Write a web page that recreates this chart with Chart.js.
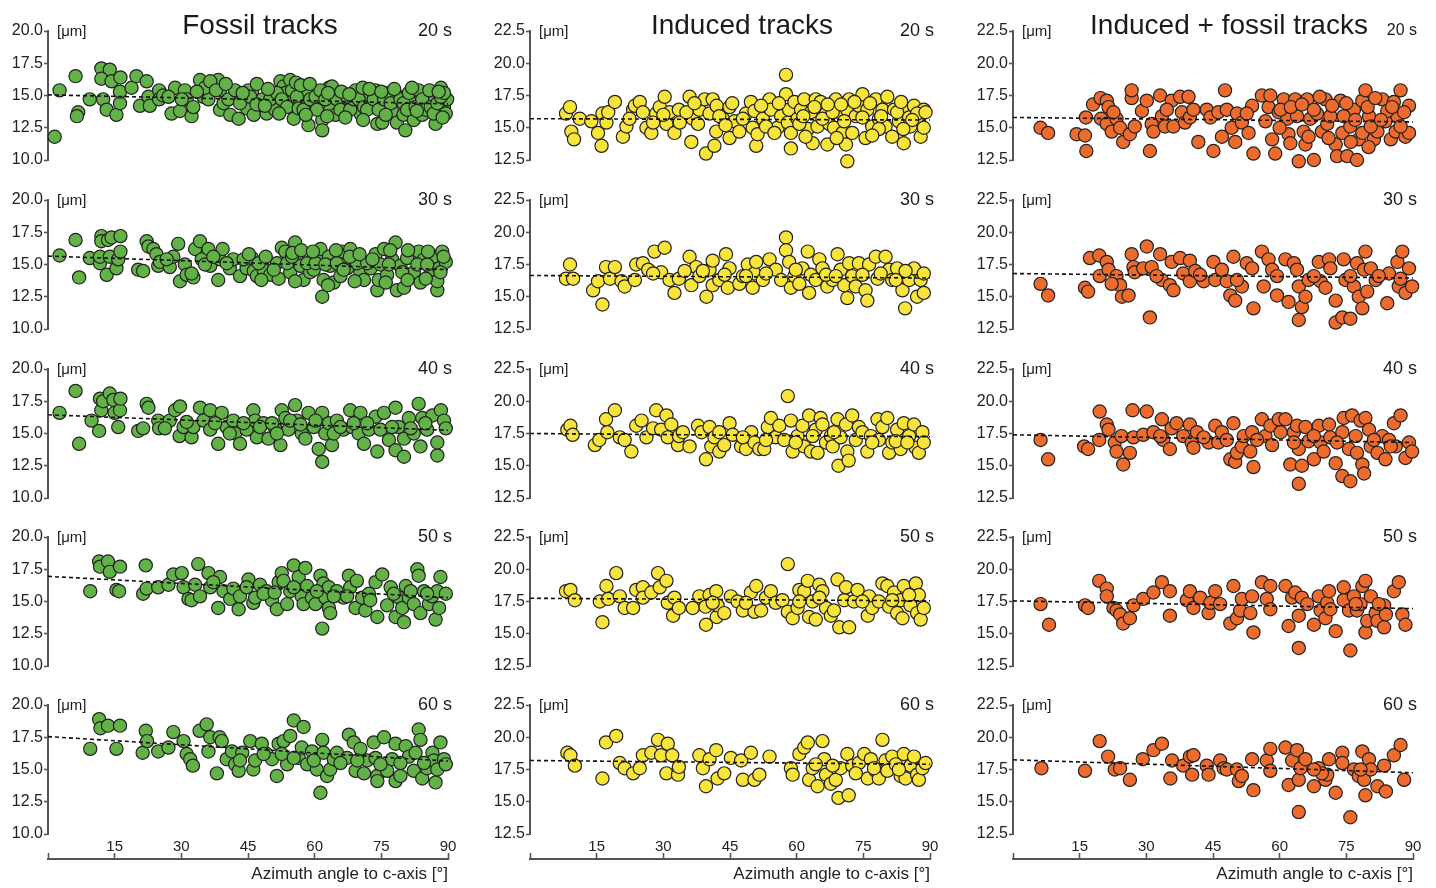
<!DOCTYPE html>
<html><head><meta charset="utf-8">
<script src="https://cdn.jsdelivr.net/npm/chart.js@4.4.0/dist/chart.umd.min.js"></script>
<style>
html,body{margin:0;padding:0;background:#fff;width:1436px;height:888px;overflow:hidden;position:relative;font-family:"Liberation Sans",Arial,sans-serif;}
canvas{position:absolute;}
.t{position:absolute;white-space:nowrap;color:#1a1a1a;line-height:1;}
</style></head><body>
<script>
// ---------- data ----------
const columnTitles = ['Fossil tracks', 'Induced tracks', 'Induced + fossil tracks'];
const timeLabels = ['20 s', '30 s', '40 s', '50 s', '60 s'];
const xTickValues = [15, 30, 45, 60, 75, 90];
const xRange = [0, 90];
const fossilYRange = [10, 20];
const inducedYRange = [12.5, 22.5];
const combinedYRange = [12.5, 22.5];
const yStep = 2.5;
const xTitle = 'Azimuth angle to c-axis [°]';
const yUnit = '[μm]';

// trend lines: value at 0° and at 90°
const fossilTrend = [[15.05, 14.35], [15.65, 14.6], [16.45, 15.25], [16.95, 15.3], [17.55, 15.65]];
const inducedTrend = [[15.7, 15.6], [16.65, 16.45], [17.5, 17.25], [17.75, 17.55], [18.2, 17.9]];
const combinedTrend = [[15.8, 15.45], [16.8, 16.45], [17.4, 16.8], [17.55, 16.95], [18.25, 17.25]];

// points as flat [angle, length, angle, length, ...]
const fossil20 = [1.5,11.8,2.6,15.4,6.2,16.5,6.8,13.7,6.5,13.4,9.4,14.7,12.0,17.1,13.9,17.0,12.0,16.3,12.4,14.7,13.2,13.9,14.3,16.1,15.4,13.5,16.2,14.4,16.3,16.4,16.2,15.3,18.8,15.6,19.9,16.5,20.7,14.2,22.2,16.1,22.6,14.9,22.9,14.2,25.0,15.4,25.0,14.7,27.8,13.6,28.6,15.6,29.7,13.8,30.8,15.4,31.2,14.7,32.3,13.4,32.7,14.1,34.2,16.2,35.0,14.9,36.1,14.7,37.2,15.8,38.3,16.2,38.7,15.4,38.7,13.9,41.0,13.5,41.7,14.9,42.9,13.2,44.4,14.7,44.8,14.0,45.9,15.3,46.3,13.5,48.2,14.7,49.2,13.6,51.1,13.9,52.3,16.1,53.0,15.7,53.4,15.2,54.5,16.2,54.5,14.5,55.3,13.2,57.1,14.7,58.3,15.3,58.6,12.7,59.8,14.1,60.9,14.7,61.7,13.1,61.7,12.3,63.2,15.6,63.5,13.9,64.3,14.9,64.7,13.5,66.5,14.1,68.4,14.4,69.5,15.3,70.3,13.6,71.4,14.7,72.6,14.1,73.7,15.4,74.1,12.8,75.2,12.9,76.3,14.7,77.4,13.8,78.2,15.1,78.5,12.9,80.0,13.5,80.4,12.3,81.6,14.7,82.3,13.1,83.4,15.2,84.2,13.5,85.3,14.1,86.5,14.8,87.2,12.8,88.4,15.6,89.1,14.1,89.8,14.7,25.9,15.0,27.1,14.9,30.1,14.7,35.3,15.6,36.5,16.1,37.8,15.4,39.5,14.4,40.6,14.7,42.1,15.4,43.2,14.4,45.1,15.4,45.5,14.9,50.0,14.7,51.5,15.2,52.6,14.7,53.8,14.1,54.9,15.4,56.0,14.9,56.4,14.0,57.5,13.9,59.0,14.7,60.2,14.9,60.5,13.9,61.3,15.4,62.4,14.7,62.8,13.4,63.9,15.7,65.0,14.7,65.8,13.9,67.3,14.9,68.0,13.9,68.8,14.7,69.2,15.4,69.9,14.7,71.1,14.1,71.8,13.9,73.3,14.7,74.4,13.9,75.6,14.7,76.7,15.2,77.1,14.4,79.3,14.7,80.0,14.4,80.8,13.9,81.2,15.2,82.7,14.1,83.4,15.4,84.2,14.7,85.0,13.9,86.1,14.1,86.8,13.6,87.6,14.4,88.4,14.9,89.5,13.6,89.1,15.2,47.0,15.9,49.5,15.5,55.8,16.0,56.9,15.8,58.9,15.9,63.0,15.2,66.0,15.3,67.8,15.1,70.8,15.6,72.3,15.5,75.0,15.3,77.9,15.5,81.9,15.6,85.8,15.4,87.9,15.3,33.5,15.3,40.0,15.9,43.8,15.2,46.9,14.3,48.8,14.2,52.0,13.6,58.0,13.5,66.9,13.3,70.9,13.1,76.0,13.5,83.0,13.8,88.8,13.3];
const fossil30 = [2.6,15.7,6.2,16.9,7.0,14.0,9.4,15.5,11.7,15.1,11.7,15.6,12.0,17.2,12.0,16.8,13.5,16.9,14.3,17.1,13.2,14.2,13.9,15.6,15.4,14.7,15.8,15.4,16.3,17.2,16.3,16.0,20.3,14.6,21.4,14.5,22.2,16.8,22.6,16.4,23.7,16.2,24.4,15.8,24.8,14.9,25.2,15.2,27.4,14.8,28.2,15.6,29.3,16.6,29.7,13.7,30.8,15.0,31.2,14.2,32.7,14.0,32.3,14.3,33.1,16.2,34.2,16.8,34.6,15.4,36.1,16.2,36.5,14.9,38.3,13.8,38.7,15.4,39.3,16.2,40.9,14.7,41.7,15.4,43.2,14.1,44.7,14.7,45.9,15.5,46.3,14.5,47.0,14.1,48.5,14.6,50.0,14.2,51.5,15.1,51.9,13.9,52.6,16.3,53.4,16.0,54.5,14.4,55.6,16.7,56.0,15.4,56.8,14.9,57.5,13.8,59.0,14.4,59.8,14.6,60.5,15.5,61.3,16.2,61.7,12.5,62.0,13.8,63.2,15.6,63.5,14.9,64.3,13.6,65.8,14.1,66.2,16.0,67.3,14.7,68.0,16.2,68.8,15.4,70.3,14.4,71.1,13.8,72.6,14.7,73.7,15.8,74.1,13.0,74.4,13.8,75.6,16.2,76.3,14.2,77.4,15.4,78.2,16.7,78.5,13.0,79.3,14.9,80.1,13.2,80.8,15.5,81.6,14.1,82.3,14.4,83.4,16.0,83.8,13.6,84.6,15.4,86.1,14.6,86.8,15.6,87.6,13.0,87.6,13.7,88.0,14.7,88.7,16.0,89.5,15.2,26.7,15.4,35.3,15.0,37.2,15.6,40.2,15.1,44.0,15.4,47.4,15.1,50.8,14.6,53.8,15.1,54.9,15.6,58.3,15.1,60.2,15.1,62.4,15.0,65.0,15.1,66.5,14.6,69.5,15.1,71.8,15.1,74.8,15.0,76.7,15.0,79.7,14.4,83.1,15.0,85.3,15.0,88.3,14.4,45.2,15.8,49.0,15.6,55.0,15.9,57.0,16.1,59.6,16.0,64.8,16.1,67.9,15.6,70.1,15.8,73.0,15.4,77.0,16.1,81.0,16.1,85.5,16.0,89.0,15.6,48.0,13.8,55.6,13.7,63.0,13.4,69.0,13.7,76.0,13.6,80.9,13.8,85.0,13.9];
const fossil40 = [2.6,16.6,6.2,18.3,7.0,14.2,9.8,16.0,11.5,15.2,11.7,17.7,12.0,16.8,12.4,17.5,13.9,18.1,14.7,17.6,15.0,16.6,15.8,15.5,16.2,16.8,16.3,17.7,20.3,15.2,22.2,17.3,22.6,17.0,21.4,15.4,24.8,16.0,25.0,15.4,27.4,16.0,28.6,16.8,29.7,17.1,29.6,14.8,30.5,15.5,32.3,14.7,32.7,15.5,34.2,17.0,35.0,16.0,36.5,16.8,36.5,15.3,38.3,14.2,39.1,16.6,40.2,15.5,41.7,16.0,42.1,15.0,43.2,14.2,44.7,15.3,46.2,16.8,46.6,16.0,47.0,14.7,48.5,15.8,49.6,14.6,51.1,15.4,52.3,14.1,52.6,16.8,53.4,16.2,54.1,15.3,55.6,17.2,56.0,16.0,57.1,15.0,57.9,14.6,58.6,16.6,59.8,15.5,60.9,13.8,61.7,12.8,61.7,16.6,62.4,15.0,63.2,15.8,63.9,14.1,65.0,16.0,66.5,15.3,68.0,16.8,68.4,15.5,69.9,15.0,70.3,16.6,71.1,14.2,72.2,15.3,73.7,16.3,74.1,13.6,75.6,16.6,76.7,14.5,78.2,17.0,78.2,13.7,78.9,15.5,80.1,13.2,80.1,14.6,81.2,16.2,82.3,15.0,83.4,17.3,83.8,14.0,84.2,16.2,85.3,15.3,86.5,16.4,87.6,13.3,87.6,14.3,88.4,16.8,89.1,16.0,89.5,15.4,26.3,15.4,31.2,15.9,37.6,15.8,40.9,15.0,44.0,15.8,47.7,15.5,50.4,15.8,51.5,15.0,54.5,16.0,56.8,15.7,60.2,16.0,64.3,15.0,65.8,15.5,68.8,15.8,71.8,15.8,74.8,15.3,77.4,15.5,81.6,15.4,84.9,15.8];
const fossil50 = [9.5,15.8,11.5,18.1,11.7,17.7,13.5,18.1,13.9,17.3,15.4,15.9,16.0,15.8,16.2,17.7,21.4,15.6,22.0,17.8,22.2,16.0,24.8,16.1,27.1,16.3,28.2,17.1,30.1,17.2,30.5,16.1,31.6,15.2,32.3,15.1,33.1,16.3,33.8,17.9,34.2,15.4,36.1,17.2,36.5,16.1,38.3,14.5,38.7,16.9,39.5,15.8,41.0,15.2,41.7,16.0,42.9,14.4,43.2,15.4,45.1,16.7,46.2,14.9,46.6,15.3,47.7,16.3,49.2,15.8,50.4,15.1,51.5,14.4,51.9,16.5,52.6,17.2,53.0,16.6,53.8,14.8,54.5,15.8,55.3,17.8,56.4,16.9,57.1,15.4,57.5,14.8,57.9,17.6,58.3,16.2,59.4,15.3,60.2,14.8,61.3,17.0,61.7,12.9,62.0,16.4,62.4,15.3,63.2,14.5,63.5,14.1,63.2,16.1,65.0,15.8,66.5,15.3,67.7,17.0,68.0,16.1,69.2,14.5,69.5,16.6,70.7,15.3,71.4,14.3,72.2,15.6,73.7,16.5,74.1,13.8,75.2,17.1,76.3,14.7,77.1,16.1,78.2,13.8,79.0,15.3,79.7,14.5,80.1,13.4,80.5,16.2,81.2,15.3,82.3,14.8,83.1,17.5,83.4,17.0,83.8,14.1,84.6,15.8,85.7,14.8,86.4,15.4,87.2,13.6,87.6,15.8,88.0,14.5,88.3,16.9,89.5,15.6,37.2,16.5,44.7,16.1,48.5,15.6,51.0,15.7,55.3,16.1,60.5,15.8,64.3,15.4,67.3,15.4,72.5,15.1,77.8,15.6,81.6,15.8,85.3,15.6];
const fossil60 = [9.5,16.6,11.5,18.9,11.8,18.2,13.5,18.4,15.4,16.6,16.2,18.4,21.3,16.3,22.0,18.0,22.3,17.2,24.8,16.4,27.1,16.7,28.2,17.9,30.5,17.2,31.2,16.2,32.0,15.8,32.6,15.3,34.1,18.0,35.7,18.5,36.1,16.4,36.5,17.5,38.0,14.7,38.6,17.5,39.1,17.2,40.2,15.8,41.4,16.4,42.1,15.4,42.9,14.9,43.7,16.3,45.5,17.2,46.2,15.0,46.6,15.7,48.1,17.0,49.2,16.2,50.4,15.8,51.5,14.5,51.9,17.0,53.0,17.2,53.8,15.4,54.5,17.6,55.3,18.8,56.4,15.9,57.1,16.7,57.5,18.3,58.3,15.4,59.4,16.4,60.5,15.0,61.3,13.2,61.7,17.3,62.0,16.3,62.8,14.5,63.5,15.0,64.3,15.8,65.0,16.3,67.3,15.9,67.7,17.7,68.8,17.1,69.2,14.9,70.3,16.6,71.1,14.7,71.8,15.7,73.3,17.1,73.7,15.9,74.1,14.5,74.1,14.1,75.6,17.5,76.3,14.9,77.4,15.8,78.2,14.1,78.2,17.0,79.3,14.5,80.5,16.8,81.2,16.0,82.3,14.9,82.7,16.3,83.4,18.1,83.8,17.3,84.2,14.3,85.3,15.1,86.5,16.3,86.8,15.7,87.2,14.0,87.6,15.0,88.3,17.1,89.1,15.8,89.5,15.4,43.2,15.7,48.5,16.2,52.6,16.2,55.3,15.9,59.8,15.7,65.8,15.5,69.6,15.7,74.8,15.4,79.3,15.5,84.6,15.5];

const induced20 = [8.1,16.1,9.0,16.6,9.3,14.7,9.9,14.1,11.2,15.7,13.8,15.5,15.3,14.6,16.1,13.6,16.3,16.1,17.2,15.4,17.6,16.2,19.1,17.0,20.9,14.3,21.7,15.1,23.2,16.4,23.6,16.7,24.7,17.0,25.4,16.2,26.2,15.0,27.3,14.6,28.4,16.1,29.2,16.6,30.3,17.4,30.7,15.3,31.4,16.2,32.5,14.6,33.5,16.4,33.7,15.4,35.9,17.4,36.3,13.9,36.6,15.7,38.1,16.4,39.3,17.2,39.6,13.0,40.4,16.1,41.1,17.2,41.5,13.6,41.9,14.7,42.0,16.7,43.4,15.7,44.9,14.2,44.9,16.6,46.0,15.5,47.1,14.7,48.6,16.1,49.7,17.0,50.1,15.0,50.5,16.3,50.9,13.6,51.2,14.5,52.4,15.7,53.9,17.2,54.2,16.4,55.7,15.0,56.5,15.9,57.6,19.1,57.6,17.6,58.0,15.4,58.3,16.4,58.7,13.4,58.7,14.6,59.5,17.0,60.2,15.7,61.0,16.4,61.7,17.2,62.5,14.9,63.2,16.2,63.6,13.8,64.3,17.2,64.7,15.1,65.4,17.0,66.6,16.1,66.9,13.7,67.3,15.3,68.4,15.0,68.8,17.2,69.6,16.2,70.3,14.6,71.1,13.7,71.4,16.4,71.8,17.2,71.4,12.4,72.5,14.6,73.3,15.9,74.0,16.7,74.8,17.6,75.5,14.2,75.9,16.4,77.0,15.1,77.8,17.2,78.5,15.7,79.3,16.4,80.0,15.1,80.4,17.4,81.5,14.3,81.9,16.4,83.0,15.5,84.1,13.8,84.5,16.4,85.6,15.1,86.4,16.7,87.5,15.7,87.9,14.3,88.6,16.4,88.6,15.0,22.4,15.7,27.7,15.4,35.2,16.2,37.8,15.3,42.6,15.9,47.9,15.7,53.1,15.1,60.6,15.3,65.8,15.7,68.1,16.2,70.7,15.5,74.8,15.8,78.5,14.9,82.6,16.2,85.3,15.8,87.1,16.1,45.5,16.9,52.0,16.7,56.0,16.9,61.5,15.9,64.0,16.6,67.0,16.8,70.0,16.8,73.0,17.0,76.5,16.9,79.0,15.9,83.5,17.0,86.0,15.6,89.0,16.2,30.0,16.0,37.0,16.9,44.0,15.2,55.0,14.6,62.0,14.3,69.0,14.2,77.0,14.4,84.0,14.9];
const induced30 = [8.1,16.4,9.0,17.5,9.7,16.4,14.2,15.5,15.3,16.2,16.3,14.4,17.1,17.3,18.0,16.4,19.1,17.3,20.6,16.2,21.3,15.8,23.6,16.3,23.9,17.5,25.4,17.6,26.6,17.1,28.0,18.5,29.5,16.9,30.3,18.8,31.4,16.3,32.5,15.3,33.5,16.4,35.9,18.1,36.3,15.9,37.4,17.3,38.1,16.6,39.7,15.0,40.4,17.1,41.1,17.8,41.1,15.9,42.6,16.3,44.1,18.3,44.5,15.7,44.9,17.2,47.1,16.0,47.9,16.6,49.0,17.5,50.1,15.7,50.5,16.8,50.9,17.7,52.4,16.3,53.9,17.9,55.3,17.1,56.5,16.3,57.6,19.6,57.6,18.6,58.3,17.7,58.7,15.7,59.5,16.6,60.6,16.0,61.3,17.2,62.5,18.5,62.8,15.3,63.2,16.7,64.3,16.3,65.1,17.9,65.8,17.2,66.9,15.8,68.1,16.3,69.2,18.3,69.9,17.1,70.7,15.9,71.4,14.9,71.8,17.6,72.5,16.6,73.3,15.8,74.0,17.6,75.5,15.5,75.9,14.7,76.3,17.5,77.8,18.1,78.2,16.4,80.0,18.1,80.8,17.1,81.5,16.3,82.6,17.2,83.8,15.5,84.4,14.1,85.3,16.3,86.4,17.2,87.1,15.0,87.9,16.3,88.6,16.8,88.6,15.3,27.7,16.8,34.8,17.0,38.9,17.0,43.8,16.7,48.6,16.6,53.1,16.8,59.8,17.1,66.6,16.7,68.8,16.6,74.8,16.7,78.9,16.8,82.3,16.3,84.5,17.0];
const induced40 = [8.4,17.8,9.1,18.1,9.6,17.4,14.6,16.6,15.6,17.0,17.1,18.6,17.4,17.6,19.1,19.3,20.2,17.2,21.3,17.0,22.8,16.1,23.9,18.1,25.1,18.5,26.2,17.2,27.7,17.9,28.4,19.3,29.5,17.8,30.7,18.9,31.0,17.2,31.8,18.2,33.3,16.6,33.5,17.3,35.9,16.5,37.8,18.1,38.6,17.6,39.6,15.5,40.4,18.0,40.8,16.5,41.5,17.2,42.6,16.1,43.7,16.6,44.9,18.3,45.6,17.4,47.5,16.5,48.6,16.3,49.8,17.6,50.5,16.8,51.6,16.3,52.7,16.3,53.5,18.0,54.2,18.7,55.3,17.2,56.1,18.1,57.2,17.0,58.0,20.4,58.7,18.5,59.1,16.1,60.2,17.3,61.3,18.1,61.7,16.5,62.8,18.9,63.2,16.1,64.3,17.8,64.7,16.0,65.4,18.7,65.8,18.2,66.6,16.8,67.7,17.3,68.1,16.5,69.2,18.6,69.4,15.0,69.9,17.2,71.1,18.2,71.4,16.1,71.7,15.4,72.5,18.9,73.3,17.0,74.0,18.0,74.8,17.6,75.9,16.1,76.7,17.3,78.2,18.6,78.5,17.0,79.3,18.0,80.4,18.7,80.8,16.0,81.5,16.8,82.6,17.8,83.4,16.3,84.1,18.3,85.3,17.3,86.4,18.2,86.8,16.4,87.5,16.0,88.3,17.6,88.6,16.8,34.4,17.6,42.6,17.6,47.9,17.2,53.1,17.0,59.8,16.8,63.6,17.3,68.4,17.6,77.0,16.8,82.3,16.9,84.9,16.8];
const induced50 = [8.1,18.3,9.1,18.4,10.1,17.6,15.7,17.5,16.3,15.9,17.2,18.7,17.6,17.7,19.4,19.7,20.2,17.9,21.3,17.0,23.2,17.0,23.9,18.4,25.4,18.6,25.4,17.8,27.3,18.2,28.8,19.7,29.2,18.6,30.7,19.1,31.0,17.4,32.2,16.4,32.5,17.8,33.5,17.0,36.6,17.0,38.1,17.9,39.5,17.1,39.6,15.7,40.4,18.0,41.9,18.3,42.0,16.3,42.2,17.2,43.7,16.6,45.2,17.9,46.7,17.5,47.9,16.8,49.7,18.2,50.5,16.7,50.9,18.7,52.0,16.8,53.1,17.8,54.2,18.3,55.3,17.4,56.8,17.6,58.0,20.4,58.0,16.7,59.1,16.2,60.2,17.0,60.6,18.4,61.7,18.3,62.5,19.1,62.8,16.3,63.6,17.5,64.3,16.1,65.1,18.8,65.8,18.3,66.6,17.0,67.7,16.4,68.4,16.8,69.2,19.2,69.6,15.5,70.7,17.6,71.1,18.6,71.8,15.5,72.9,17.5,73.7,18.4,76.0,16.4,76.3,17.9,77.0,17.0,78.5,17.5,79.3,18.9,80.4,18.7,80.8,17.1,81.9,18.2,82.6,16.6,83.4,17.6,83.8,16.2,84.1,18.7,85.6,17.2,86.8,18.9,87.1,16.6,87.5,18.0,87.9,16.1,88.6,17.0,41.1,17.4,48.6,17.4,60.6,17.5,65.1,17.8,74.8,17.5,81.5,17.6,85.3,18.0];
const induced60 = [8.4,18.8,9.1,18.6,10.1,17.8,16.3,16.8,17.1,19.6,19.4,20.1,20.2,18.0,21.3,17.6,23.2,17.2,24.7,17.6,25.4,18.6,27.3,18.8,28.8,19.8,29.5,18.6,30.7,17.2,31.0,19.5,32.0,18.6,33.3,17.1,33.5,17.7,38.1,18.6,38.9,17.6,39.6,16.2,40.4,18.3,41.9,19.0,42.2,16.8,43.7,17.2,45.2,18.4,47.5,18.2,47.9,16.7,49.7,18.8,50.5,16.7,51.6,17.1,53.9,18.5,58.7,17.6,59.1,17.1,60.6,18.7,61.7,19.2,62.5,19.6,62.8,16.7,63.6,17.6,64.7,16.2,65.8,19.7,66.2,18.3,66.6,17.1,67.7,16.4,68.8,16.7,69.4,15.3,69.9,17.6,71.4,18.7,71.7,15.5,72.5,17.8,74.0,18.0,75.2,18.7,76.0,16.8,76.7,18.3,77.8,17.4,78.5,16.8,79.3,19.8,80.0,18.2,80.4,17.4,81.5,18.5,82.3,17.9,83.4,17.0,84.1,18.7,84.5,16.8,85.6,17.8,86.4,18.5,87.1,17.1,87.5,16.7,88.3,17.6,89.0,18.0,68.1,17.8,73.3,17.2,77.4,17.6,83.0,17.5,64.3,17.9];

const combined20 = [6.2,15.0,7.9,14.6,14.3,14.5,16.2,14.4,16.5,13.2,16.4,15.8,18.0,16.8,19.7,17.3,19.8,15.7,21.1,17.1,21.5,16.6,21.1,15.3,22.2,14.7,23.3,15.7,24.1,15.0,24.8,13.9,26.3,14.5,26.7,17.3,26.7,17.9,27.4,15.1,29.0,16.3,30.1,17.1,30.8,13.2,31.2,15.3,31.6,14.7,33.1,17.5,33.5,15.9,34.2,15.1,35.7,17.1,36.1,15.1,37.6,17.4,38.0,16.2,38.7,15.4,39.5,17.4,39.8,15.8,41.7,13.9,43.6,16.4,44.4,15.8,45.1,13.2,46.2,16.2,47.0,14.3,47.7,17.9,48.1,16.4,49.2,15.0,50.0,13.9,50.4,16.1,51.5,15.4,53.0,14.6,53.8,16.7,54.1,13.0,56.0,17.5,56.8,15.5,57.5,16.6,57.9,17.5,58.3,14.1,59.0,13.0,59.8,16.2,60.9,17.2,61.7,15.7,62.0,14.5,62.4,13.8,63.5,17.2,63.9,15.9,64.3,12.4,65.4,14.7,65.8,13.7,66.2,17.2,66.9,15.7,67.7,12.5,68.4,16.1,69.5,14.7,70.3,17.2,70.7,15.3,71.4,15.9,72.6,13.7,72.9,12.8,73.7,17.1,74.1,14.6,75.2,12.8,75.9,15.1,76.7,16.4,77.4,12.5,77.8,14.1,78.6,17.1,78.6,14.6,79.3,17.9,80.1,15.9,81.2,14.1,82.0,14.7,83.1,17.2,83.8,15.5,85.0,14.1,85.7,17.0,86.1,14.7,86.5,15.9,87.2,17.9,88.3,14.3,89.1,16.7,89.1,14.6,22.6,16.2,34.6,16.4,40.6,16.4,52.6,16.1,60.2,16.4,67.7,16.4,74.4,15.9,80.5,15.1,84.2,16.3,87.2,15.1,62.5,16.6,65.0,16.8,69.0,17.4,71.8,16.7,75.0,16.9,77.0,15.6,79.8,16.6,81.5,17.3,82.8,15.6,85.3,16.6,88.0,16.2,60.0,15.0,66.5,14.3,71.0,14.2,76.0,13.9,80.0,13.5];
const combined30 = [6.2,16.0,7.9,15.1,16.2,15.7,16.9,15.4,17.3,18.0,19.4,18.2,19.5,16.6,21.1,17.7,21.5,17.1,23.3,16.6,24.1,15.9,24.5,15.0,26.0,15.1,26.7,18.3,27.1,17.3,27.4,16.9,29.3,17.2,30.1,18.9,30.8,13.4,31.2,17.3,33.1,18.3,33.5,16.3,35.3,15.9,36.1,15.5,35.7,17.7,37.6,18.0,38.3,16.8,39.8,17.8,39.8,16.2,41.0,17.0,42.9,16.2,45.1,17.7,45.5,16.3,47.0,17.1,48.1,16.2,48.9,15.1,49.6,18.1,50.0,14.7,51.5,15.8,52.6,17.6,53.8,17.2,54.1,14.1,56.0,18.5,56.4,15.8,57.5,17.9,58.3,17.1,59.4,15.1,61.3,17.9,62.0,14.6,63.2,17.6,63.9,17.1,64.3,13.2,64.3,15.8,65.0,14.2,65.8,15.0,66.5,16.3,68.8,17.7,69.2,16.2,70.3,15.7,71.1,17.9,71.4,17.2,72.6,14.7,72.6,13.0,74.1,13.4,74.4,17.9,74.8,16.3,75.9,13.3,76.7,15.8,77.4,17.6,77.8,15.0,78.6,14.1,79.0,17.1,79.3,18.5,79.7,15.4,80.5,17.2,81.6,16.3,84.2,14.5,84.6,16.8,86.5,17.7,86.8,15.8,87.6,18.5,88.3,15.3,89.1,17.2,89.8,15.8,22.2,16.0,32.3,16.6,42.1,16.7,50.4,16.3,59.4,16.6,67.7,16.6,75.9,16.6,82.3,16.6,87.2,16.4];
const combined40 = [6.2,17.0,7.9,15.5,16.0,16.5,16.9,16.3,19.4,17.0,19.5,19.2,21.1,18.2,21.5,17.8,22.9,16.8,23.3,16.1,24.4,17.3,24.8,15.1,26.3,16.0,27.1,17.2,26.9,19.3,29.3,17.4,30.1,19.2,31.6,17.6,33.5,18.6,33.8,17.0,35.3,16.3,35.7,17.9,36.8,18.3,38.3,17.3,39.8,18.2,40.2,16.8,40.6,16.4,41.4,17.6,44.0,16.8,45.5,18.1,46.2,16.8,47.0,17.6,48.9,15.5,49.6,18.3,50.0,15.3,50.4,16.0,51.5,16.5,51.9,17.3,53.4,16.1,53.8,17.6,54.1,14.9,56.0,18.6,56.8,17.3,57.9,18.1,58.3,16.6,59.8,18.6,61.3,18.6,62.4,15.1,63.2,17.6,63.9,18.1,64.3,16.3,64.3,13.6,65.0,15.0,65.8,18.0,66.5,16.9,67.7,15.5,68.8,18.1,69.2,16.8,69.9,16.1,71.1,18.2,71.4,17.2,72.6,15.2,74.1,14.2,74.1,17.6,74.4,18.7,75.6,16.3,75.9,13.8,76.3,18.9,77.1,17.3,77.4,16.0,78.2,18.5,78.6,15.1,79.0,14.4,79.3,18.7,80.1,17.8,80.5,16.5,82.0,16.0,83.1,17.3,83.8,15.5,84.6,17.0,85.7,18.3,86.1,16.5,87.2,18.9,88.3,15.6,89.1,16.8,89.8,16.1,33.1,17.3,42.9,17.2,48.1,17.0,54.9,17.0,60.2,17.6,63.2,16.8,67.7,17.3,72.9,16.8,81.2,17.0,85.0,16.5];
const combined50 = [6.2,17.3,8.1,15.7,16.2,17.2,16.9,17.0,19.4,19.1,21.1,18.5,21.1,17.9,22.6,17.0,23.3,16.8,24.1,16.5,24.8,15.8,26.3,16.2,27.1,17.2,29.3,17.7,31.6,18.2,33.5,19.0,35.3,18.3,35.3,16.4,39.1,17.6,39.8,18.3,40.6,17.0,42.1,17.8,44.0,16.6,44.4,17.4,45.5,18.3,46.6,17.3,48.9,15.8,49.6,18.7,50.4,16.2,51.1,16.8,51.5,17.7,53.4,16.6,53.8,17.9,54.1,15.1,56.0,19.0,57.1,17.7,57.9,16.9,57.9,18.7,61.3,18.7,62.0,15.6,62.8,17.8,63.5,18.2,64.3,13.9,64.3,16.4,65.0,17.8,67.7,15.7,68.8,17.9,69.2,16.8,70.3,16.2,70.7,17.4,71.1,18.3,72.6,15.2,74.4,18.6,74.4,17.6,75.6,16.8,75.9,13.7,76.7,17.9,77.4,16.8,78.2,17.3,78.6,18.7,79.3,19.1,79.3,15.1,79.7,16.0,80.5,17.9,81.6,16.6,82.0,16.0,83.5,17.2,83.5,15.5,83.9,16.5,85.7,18.3,86.8,19.0,87.6,16.5,88.3,15.7,66.2,17.3,71.4,16.9,77.1,17.3,82.3,17.3];
const combined60 = [6.4,17.6,16.2,17.4,19.5,19.7,21.4,18.5,22.9,17.5,24.1,17.6,26.3,16.7,29.2,18.3,31.6,19.0,33.5,19.5,35.4,16.8,35.8,18.2,38.3,17.8,39.8,18.5,40.6,18.6,40.3,17.1,43.6,17.8,44.0,17.1,46.6,18.2,47.4,17.6,48.1,17.5,50.4,17.5,50.8,16.6,51.5,17.0,54.1,15.9,53.8,18.3,57.1,18.2,57.9,19.1,57.9,17.4,61.3,19.2,62.0,16.3,62.8,18.2,63.9,19.0,64.3,14.2,64.3,16.7,64.7,17.6,65.8,18.3,67.7,16.2,68.8,17.6,70.3,16.7,70.7,17.1,71.1,18.3,72.6,15.7,74.1,18.8,74.1,18.0,75.9,13.8,76.7,17.5,77.8,17.0,78.6,18.9,79.0,16.7,79.3,15.5,80.1,18.3,80.5,17.5,82.0,16.2,83.5,17.8,83.9,15.8,85.7,18.6,87.2,19.4,88.0,16.7,69.5,17.2,78.2,17.5,67.7,17.5];

// ---------- layout / style ----------
const FF = '"Liberation Sans", Arial, sans-serif';
const COL_X0 = [48, 530, 1013];
const ROW_TOP = [31, 200, 369, 537, 705];
const PLOT_H = 129, PLOT_W = 400, YAXIS_W = 48, PAD_T = 15, PAD_R = 14;
const FILL = ['#63b247', '#f8e43a', '#ec6b2d'];
const AXIS = '#555555';

const columns = [
  {pts: [fossil20, fossil30, fossil40, fossil50, fossil60], trend: fossilTrend, yr: fossilYRange},
  {pts: [induced20, induced30, induced40, induced50, induced60], trend: inducedTrend, yr: inducedYRange},
  {pts: [combined20, combined30, combined40, combined50, combined60], trend: combinedTrend, yr: combinedYRange}
];

function pairs(a) { const o = []; for (let i = 0; i < a.length; i += 2) o.push({x: a[i], y: a[i + 1]}); return o; }

function text(str, x, y, size, align) {
  const d = document.createElement('div');
  d.className = 't';
  d.textContent = str;
  d.style.fontSize = size + 'px';
  d.style.top = (y - 0.8465 * size) + 'px'; // y is baseline
  if (align === 'right') { d.style.right = (1436 - x) + 'px'; }
  else if (align === 'center') { d.style.left = x + 'px'; d.style.transform = 'translateX(-50%)'; }
  else { d.style.left = x + 'px'; }
  document.body.appendChild(d);
}

function panel(c, r) {
  const col = columns[c];
  const bottom = r === 4;
  const W = YAXIS_W + PLOT_W + PAD_R;
  const H = PAD_T + PLOT_H + (bottom ? 54 : 12);
  const cv = document.createElement('canvas');
  cv.width = W; cv.height = H;
  cv.style.left = (COL_X0[c] - YAXIS_W) + 'px';
  cv.style.top = (ROW_TOP[r] - PAD_T) + 'px';
  cv.style.width = W + 'px'; cv.style.height = H + 'px';
  document.body.appendChild(cv);

  const xScale = {
    type: 'linear', min: xRange[0], max: xRange[1], position: 'bottom', weight: 1, display: bottom,
    grid: {display: false, drawTicks: false}, border: {display: false},
    afterBuildTicks: s => { s.ticks = xTickValues.map(v => ({value: v})); },
    ticks: {padding: 4, autoSkip: false, maxRotation: 0, color: '#222', font: {size: 15, family: FF}}
  };
  if (bottom) xScale.afterFit = s => { s.height = 25; };

  const scales = {
    x: xScale,
    y: {
      type: 'linear', min: col.yr[0], max: col.yr[1], position: 'left',
      ticks: {stepSize: yStep, padding: 1, color: '#222', font: {size: 16, family: FF}, callback: v => v.toFixed(1)},
      grid: {drawOnChartArea: false, drawTicks: true, tickLength: 4, tickColor: AXIS, tickWidth: 1.6},
      border: {display: true, color: AXIS, width: 2},
      afterFit: s => { s.width = YAXIS_W; }
    }
  };
  if (bottom) {
    scales.x2 = {
      type: 'linear', min: xRange[0], max: xRange[1], position: 'bottom', weight: 2,
      afterBuildTicks: s => { s.ticks = [xRange[0]].concat(xTickValues).map(v => ({value: v})); },
      ticks: {display: false},
      grid: {drawOnChartArea: false, drawTicks: true, tickLength: -6, tickColor: AXIS, tickWidth: 1.6},
      border: {display: true, color: AXIS, width: 2},
      title: {display: true, text: xTitle, align: 'end', color: '#222', font: {size: 17, family: FF}, padding: {top: 0, bottom: 2}},
      afterFit: s => { s.height = 28; }
    };
  }

  new Chart(cv, {
    type: 'scatter',
    data: {
      datasets: [
        {
          data: [{x: xRange[0], y: col.trend[r][0]}, {x: xRange[1], y: col.trend[r][1]}],
          showLine: true, pointRadius: 0, borderColor: '#111', borderWidth: 1.6, borderDash: [4, 3], order: 0, clip: false
        },
        {
          data: pairs(col.pts[r]),
          pointRadius: 6.6, pointBackgroundColor: FILL[c], pointBorderColor: '#222', pointBorderWidth: 1.2,
          order: 1, clip: false
        }
      ]
    },
    options: {
      responsive: false, animation: false, devicePixelRatio: 1, events: [],
      layout: {padding: {left: 0, right: PAD_R, top: PAD_T, bottom: bottom ? 1 : 12}},
      plugins: {legend: {display: false}, tooltip: {enabled: false}, title: {display: false}},
      scales: scales
    }
  });

  text(yUnit, COL_X0[c] + 9, ROW_TOP[r] + 5, 15, 'left');
  const small = (c === 2 && r === 0);
  text(timeLabels[r], COL_X0[c] + 404, ROW_TOP[r] + 5, small ? 16 : 18, 'right');
}

for (let c = 0; c < 3; c++) for (let r = 0; r < 5; r++) panel(c, r);

const titleCenters = [260, 742, 1229];
columnTitles.forEach((t, i) => text(t, titleCenters[i], 35, 28, 'center'));
</script>
</body></html>
